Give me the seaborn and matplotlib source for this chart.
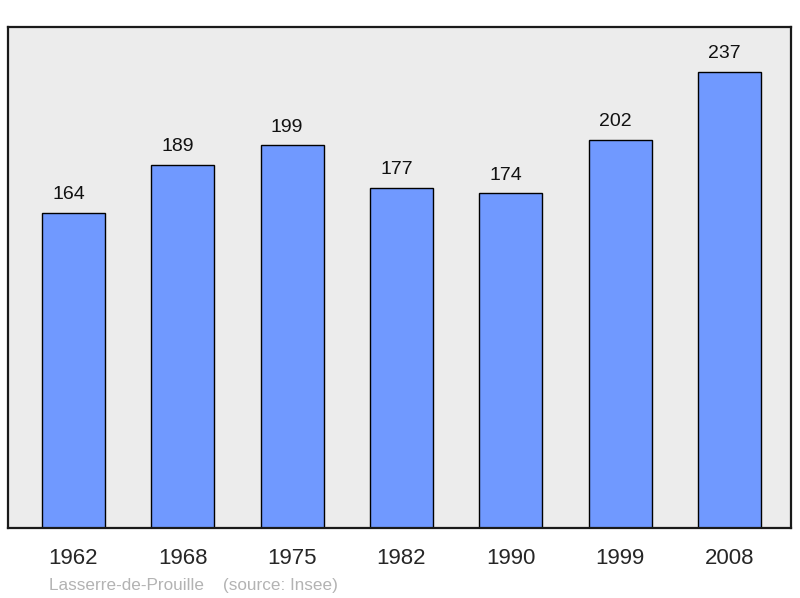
import matplotlib
matplotlib.use('Agg')
import pandas as pd
import seaborn as sns
import matplotlib.pyplot as plt

# population data
years = ['1962', '1968', '1975', '1982', '1990', '1999', '2008']
population = [164, 189, 199, 177, 174, 202, 237]
place = 'Lasserre-de-Prouille'
source = '(source: Insee)'

df = pd.DataFrame({'year': years, 'pop': population})

sns.set_style('white')
plt.rcParams['font.family'] = ['Liberation Sans', 'DejaVu Sans']

fig = plt.figure(figsize=(8, 5.98), dpi=100)
ax = fig.add_axes([8 / 800, 1 - 528 / 598, 783 / 800, 501 / 598])
ax.set_facecolor('#ececec')

sns.barplot(data=df, x='year', y='pop', color='#7099ff', saturation=1,
            edgecolor='black', linewidth=1, width=0.576, ax=ax)

for i, v in enumerate(population):
    ax.annotate(str(v), xy=(i, v), xytext=(-3.6, 10), textcoords='offset points',
                ha='center', va='baseline', fontsize=14, color='#111111')

ax.set_xlim(-0.599, 6.563)
ax.set_ylim(0, 260.6)
ax.set_xlabel('')
ax.set_ylabel('')
ax.set_yticks([])
ax.tick_params(axis='x', length=0, pad=14.5, labelsize=16)
for s in ax.spines.values():
    s.set_linewidth(1.6)
    s.set_color('#1a1a1a')

fig.text(49 / 800, 1 - 590 / 598, place + '    ' + source, fontsize=12.3,
         color='#b3b3b3', ha='left', va='baseline')

fig.savefig('out.png', dpi=100)
